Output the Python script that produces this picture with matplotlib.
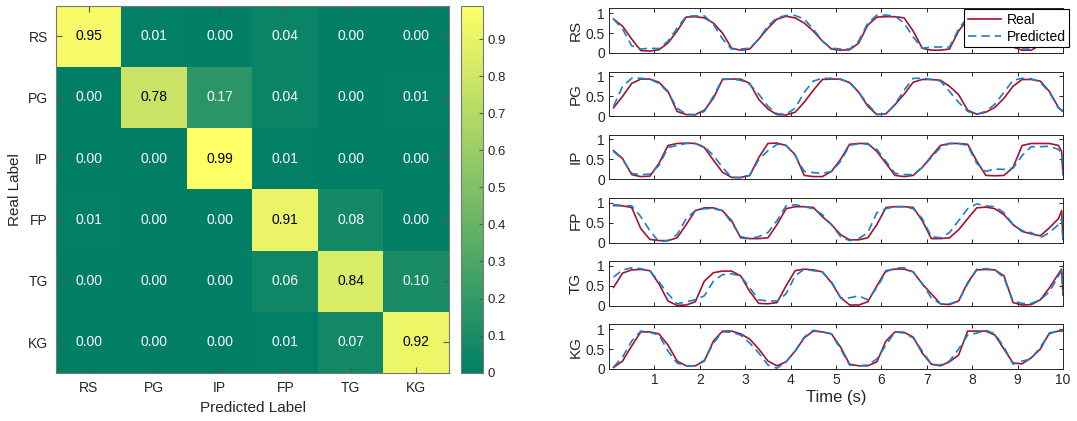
import numpy as np
import matplotlib
matplotlib.use("Agg")
import matplotlib.pyplot as plt
from matplotlib.ticker import FuncFormatter

plt.rcParams['font.family'] = ['Liberation Sans', 'DejaVu Sans']

# ---- confusion matrix ----
CLASSES = ["RS", "PG", "IP", "FP", "TG", "KG"]
CONF = [
    [0.95, 0.01, 0.00, 0.04, 0.00, 0.00],
    [0.00, 0.78, 0.17, 0.04, 0.00, 0.01],
    [0.00, 0.00, 0.99, 0.01, 0.00, 0.00],
    [0.01, 0.00, 0.00, 0.91, 0.08, 0.00],
    [0.00, 0.00, 0.00, 0.06, 0.84, 0.10],
    [0.00, 0.00, 0.00, 0.01, 0.07, 0.92],
]

# ---- time series ----
TIME = [0.1, 0.3, 0.5, 0.7, 0.9, 1.1, 1.3, 1.5, 1.7, 1.9,
        2.1, 2.3, 2.5, 2.7, 2.9, 3.1, 3.3, 3.5, 3.7, 3.9,
        4.1, 4.3, 4.5, 4.7, 4.9, 5.1, 5.3, 5.5, 5.7, 5.9,
        6.1, 6.3, 6.5, 6.7, 6.9, 7.1, 7.3, 7.5, 7.7, 7.9,
        8.1, 8.3, 8.5, 8.7, 8.9, 9.1, 9.3, 9.5, 9.7, 9.9,
        9.97, 10.0]

rs_real = [0.85, 0.67, 0.35, 0.06, 0.05, 0.08, 0.25, 0.55, 0.90, 0.91,
           0.88, 0.75, 0.50, 0.12, 0.07, 0.10, 0.35, 0.62, 0.85, 0.92,
           0.88, 0.75, 0.55, 0.30, 0.10, 0.07, 0.08, 0.25, 0.70, 0.90,
           0.91, 0.91, 0.88, 0.55, 0.12, 0.07, 0.07, 0.10, 0.55, 0.85,
           0.92, 0.92, 0.85, 0.55, 0.15, 0.07, 0.07, 0.20, 0.60, 0.88,
           0.90, 0.90]
rs_pred = [0.85, 0.60, 0.18, 0.10, 0.12, 0.11, 0.30, 0.62, 0.92, 0.93,
           0.93, 0.72, 0.35, 0.10, 0.10, 0.12, 0.35, 0.68, 0.88, 0.94,
           0.94, 0.85, 0.60, 0.30, 0.12, 0.10, 0.10, 0.30, 0.75, 0.95,
           0.95, 0.92, 0.75, 0.40, 0.12, 0.15, 0.15, 0.15, 0.60, 0.90,
           0.94, 0.93, 0.82, 0.50, 0.15, 0.10, 0.10, 0.25, 0.65, 0.90,
           0.92, 0.92]

pg_real = [0.21, 0.50, 0.82, 0.93, 0.93, 0.85, 0.62, 0.12, 0.04, 0.04,
           0.15, 0.45, 0.92, 0.93, 0.93, 0.82, 0.42, 0.18, 0.04, 0.03,
           0.10, 0.35, 0.65, 0.92, 0.93, 0.93, 0.84, 0.60, 0.25, 0.04,
           0.06, 0.29, 0.55, 0.85, 0.92, 0.92, 0.90, 0.75, 0.54, 0.15,
           0.05, 0.10, 0.22, 0.45, 0.75, 0.92, 0.92, 0.88, 0.62, 0.22,
           0.14, 0.12]
pg_pred = [0.25, 0.75, 0.95, 0.95, 0.93, 0.82, 0.60, 0.20, 0.05, 0.03,
           0.12, 0.50, 0.93, 0.93, 0.90, 0.80, 0.55, 0.25, 0.06, 0.05,
           0.20, 0.60, 0.88, 0.95, 0.95, 0.92, 0.85, 0.60, 0.30, 0.05,
           0.05, 0.30, 0.65, 0.95, 0.95, 0.92, 0.88, 0.62, 0.35, 0.12,
           0.05, 0.12, 0.30, 0.60, 0.90, 0.95, 0.94, 0.85, 0.60, 0.20,
           0.16, 0.15]

ip_real = [0.72, 0.52, 0.12, 0.07, 0.08, 0.40, 0.85, 0.90, 0.91, 0.90,
           0.80, 0.48, 0.18, 0.05, 0.05, 0.10, 0.55, 0.90, 0.91, 0.85,
           0.62, 0.10, 0.07, 0.07, 0.20, 0.50, 0.88, 0.90, 0.90, 0.70,
           0.40, 0.10, 0.07, 0.10, 0.30, 0.58, 0.85, 0.90, 0.90, 0.88,
           0.46, 0.10, 0.09, 0.10, 0.30, 0.85, 0.90, 0.90, 0.90, 0.85,
           0.70, 0.12]
ip_pred = [0.70, 0.50, 0.15, 0.12, 0.13, 0.35, 0.80, 0.85, 0.90, 0.90,
           0.82, 0.60, 0.30, 0.05, 0.04, 0.10, 0.50, 0.72, 0.88, 0.85,
           0.60, 0.20, 0.17, 0.15, 0.20, 0.45, 0.85, 0.90, 0.88, 0.75,
           0.45, 0.15, 0.12, 0.12, 0.30, 0.55, 0.80, 0.90, 0.90, 0.85,
           0.40, 0.20, 0.26, 0.25, 0.28, 0.60, 0.82, 0.82, 0.83, 0.75,
           0.65, 0.12]

fp_real = [0.93, 0.92, 0.88, 0.35, 0.08, 0.05, 0.05, 0.12, 0.45, 0.80,
           0.87, 0.87, 0.80, 0.55, 0.12, 0.10, 0.10, 0.12, 0.45, 0.85,
           0.90, 0.90, 0.88, 0.65, 0.45, 0.20, 0.07, 0.07, 0.12, 0.45,
           0.88, 0.90, 0.90, 0.88, 0.55, 0.10, 0.10, 0.12, 0.32, 0.60,
           0.87, 0.89, 0.85, 0.70, 0.45, 0.28, 0.22, 0.17, 0.37, 0.60,
           0.80, 0.08]
fp_pred = [0.95, 0.93, 0.92, 0.65, 0.30, 0.02, 0.05, 0.20, 0.60, 0.80,
           0.85, 0.85, 0.80, 0.50, 0.15, 0.10, 0.15, 0.25, 0.55, 0.92,
           0.95, 0.90, 0.85, 0.70, 0.45, 0.15, 0.05, 0.10, 0.25, 0.75,
           0.85, 0.90, 0.90, 0.85, 0.60, 0.15, 0.12, 0.25, 0.55, 0.85,
           0.97, 0.92, 0.90, 0.75, 0.45, 0.30, 0.25, 0.12, 0.25, 0.45,
           0.60, 0.05]

tg_real = [0.46, 0.82, 0.90, 0.91, 0.88, 0.55, 0.12, 0.01, 0.02, 0.10,
           0.62, 0.83, 0.87, 0.87, 0.75, 0.36, 0.06, 0.05, 0.08, 0.50,
           0.88, 0.92, 0.90, 0.85, 0.58, 0.21, 0.02, 0.02, 0.10, 0.50,
           0.88, 0.92, 0.92, 0.85, 0.55, 0.30, 0.05, 0.03, 0.12, 0.58,
           0.90, 0.91, 0.90, 0.75, 0.08, 0.02, 0.03, 0.15, 0.45, 0.80,
           0.92, 0.27]
tg_pred = [0.72, 0.90, 0.95, 0.93, 0.88, 0.60, 0.30, 0.05, 0.10, 0.15,
           0.25, 0.62, 0.78, 0.80, 0.75, 0.45, 0.15, 0.12, 0.12, 0.30,
           0.75, 0.92, 0.88, 0.85, 0.60, 0.20, 0.20, 0.25, 0.15, 0.45,
           0.85, 0.95, 0.95, 0.85, 0.55, 0.20, 0.05, 0.05, 0.12, 0.55,
           0.92, 0.93, 0.90, 0.70, 0.12, 0.06, 0.06, 0.15, 0.35, 0.75,
           0.88, 0.30]

kg_real = [0.04, 0.20, 0.58, 0.93, 0.93, 0.88, 0.60, 0.20, 0.08, 0.08,
           0.20, 0.70, 0.95, 0.95, 0.88, 0.75, 0.50, 0.20, 0.08, 0.18,
           0.45, 0.78, 0.95, 0.93, 0.88, 0.55, 0.12, 0.08, 0.08, 0.18,
           0.70, 0.93, 0.92, 0.80, 0.40, 0.12, 0.08, 0.18, 0.35, 0.95,
           0.95, 0.95, 0.85, 0.50, 0.15, 0.13, 0.28, 0.50, 0.90, 0.95,
           0.95, 0.96]
kg_pred = [0.05, 0.30, 0.70, 0.95, 0.92, 0.85, 0.45, 0.15, 0.08, 0.08,
           0.22, 0.65, 0.93, 0.92, 0.85, 0.65, 0.40, 0.10, 0.02, 0.18,
           0.45, 0.80, 0.97, 0.93, 0.88, 0.50, 0.10, 0.08, 0.10, 0.25,
           0.60, 0.93, 0.90, 0.78, 0.45, 0.12, 0.10, 0.20, 0.50, 0.85,
           0.90, 0.97, 0.88, 0.55, 0.12, 0.20, 0.25, 0.55, 0.88, 0.97,
           0.97, 0.96]

SERIES = [("RS", rs_real, rs_pred), ("PG", pg_real, pg_pred),
          ("IP", ip_real, ip_pred), ("FP", fp_real, fp_pred),
          ("TG", tg_real, tg_pred), ("KG", kg_real, kg_pred)]

REAL_COLOR = "#A2142F"
PRED_COLOR = "#1a7fc9"
AX_COLOR = "#262626"

W, H = 1077, 421
fig = plt.figure(figsize=(W / 100, H / 100), dpi=100)

# ---- left: confusion matrix ----
ax = fig.add_axes([56 / W, 1 - 372.7 / H, 393 / W, 367 / H])
conf = np.array(CONF)
im = ax.imshow(conf, cmap="summer", aspect="auto", vmin=conf.min(), vmax=conf.max())
for i in range(len(CLASSES)):
    for j in range(len(CLASSES)):
        v = conf[i, j]
        ax.text(j, i, f"{v:.2f}", ha="center", va="center", fontsize=10,
                color="black" if v > 0.5 else "white")
ax.set_xticks(range(len(CLASSES)))
ax.set_yticks(range(len(CLASSES)))
ax.set_xticklabels(CLASSES)
ax.set_yticklabels(CLASSES)
ax.tick_params(direction="in", length=4, width=0.8, color="#555555",
               labelsize=10, labelcolor=AX_COLOR, top=True, right=True, pad=6)
ax.set_xlabel("Predicted Label", fontsize=11, color=AX_COLOR, labelpad=4)
ax.set_ylabel("Real Label", fontsize=11, color=AX_COLOR, labelpad=4)
for s in ax.spines.values():
    s.set_color("#777777")
    s.set_linewidth(0.8)

cax = fig.add_axes([461 / W, 1 - 372.7 / H, 22 / W, 367 / H])
cb = fig.colorbar(im, cax=cax)
cb.set_ticks(np.arange(0, 1.0, 0.1))
cb.ax.yaxis.set_major_formatter(FuncFormatter(lambda v, p: f"{v:g}" if v else "0"))
cb.ax.tick_params(direction="in", length=3, width=0.8, color="#555555",
                  labelsize=9.5, labelcolor=AX_COLOR)
cb.outline.set_edgecolor("#777777")
cb.outline.set_linewidth(0.8)

# ---- right: time series ----
t = np.array(TIME)
for k, (name, real, pred) in enumerate(SERIES):
    top = 8.3 + k * 63.2
    a = fig.add_axes([609 / W, 1 - (top + 44.7) / H, 454 / W, 44.7 / H])
    a.plot(t, real, color=REAL_COLOR, lw=1.2, label="Real")
    a.plot(t, pred, color=PRED_COLOR, lw=1.2, ls=(0, (5, 3)), label="Predicted")
    a.set_xlim(0, 10)
    a.set_ylim(0, 1.12)
    a.set_yticks([0, 0.5, 1])
    a.set_yticklabels(["0", "0.5", "1"])
    a.set_xticks(range(1, 11))
    a.tick_params(direction="in", length=3, width=0.7, color=AX_COLOR,
                  labelsize=10, labelcolor=AX_COLOR, top=True, right=True, pad=3)
    a.set_ylabel(name, fontsize=11, color=AX_COLOR, labelpad=2)
    for s in a.spines.values():
        s.set_color(AX_COLOR)
        s.set_linewidth(0.7)
    if k < len(SERIES) - 1:
        a.tick_params(labelbottom=False)
    else:
        a.set_xlabel("Time (s)", fontsize=12, color=AX_COLOR, labelpad=2)
    if k == 0:
        leg = a.legend(loc="upper right", bbox_to_anchor=(1069 / W, 1 - 9.3 / H),
                       bbox_transform=fig.transFigure, fontsize=10, frameon=True,
                       fancybox=False, borderaxespad=0, borderpad=0.25,
                       labelspacing=0.2, handlelength=2.4, handletextpad=0.4)
        leg.get_frame().set_edgecolor("black")
        leg.get_frame().set_linewidth(0.8)
        leg.get_frame().set_alpha(1)

fig.savefig("out.png", dpi=100)
